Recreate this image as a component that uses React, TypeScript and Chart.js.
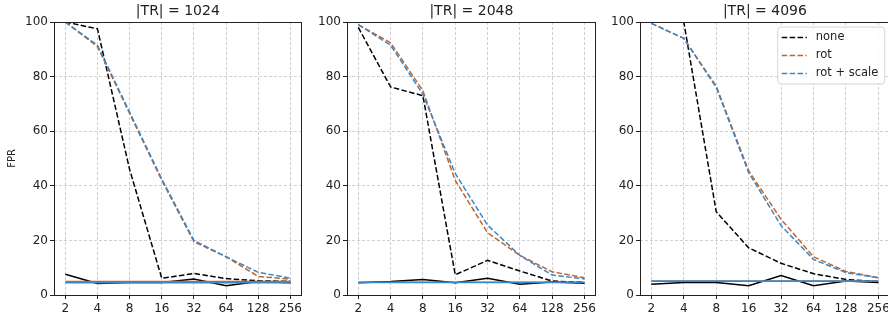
import React, { useEffect, useRef } from 'react';
import { Chart, registerables } from 'chart.js';
Chart.register(...registerables);

const xLabels = ['2', '4', '8', '16', '32', '64', '128', '256'];
const yTicks = [0, 20, 40, 60, 80, 100];
const panelTitles = ['|TR| = 1024', '|TR| = 2048', '|TR| = 4096'];
const seriesNames = ['none', 'rot', 'rot + scale'];
const seriesColors = ['#000000', '#c0652f', '#3d87c6'];

// |TR| = 1024
const none1024 = [100, 97.5, 46, 6.1, 7.9, 6.0, 5.2, 5.0];
const rot1024 = [100, 91, 66.5, 42, 19.5, 14, 6.8, 5.8];
const rotScale1024 = [100, 91.5, 67, 42.5, 20, 14, 8.3, 6.2];
const noneBase1024 = [7.6, 4.2, 4.6, 4.6, 5.9, 3.4, 4.9, 4.5];
const rotBase1024 = [4.9, 4.9, 4.9, 4.9, 4.9, 4.9, 4.9, 4.9];
const rotScaleBase1024 = [4.5, 4.5, 4.5, 4.5, 4.5, 4.5, 4.5, 4.5];

// |TR| = 2048
const none2048 = [98, 76.2, 73, 7.4, 12.7, 8.8, 5.1, 4.6];
const rot2048 = [99, 92.4, 74.8, 42, 22.8, 14.5, 8.5, 6.3];
const rotScale2048 = [99, 91.5, 73.5, 44.5, 25.6, 14.5, 7.3, 5.9];
const noneBase2048 = [4.5, 4.9, 5.7, 4.5, 6.1, 3.9, 4.8, 4.3];
const rotBase2048 = [4.7, 4.7, 4.7, 4.7, 4.7, 4.7, 4.7, 4.7];
const rotScaleBase2048 = [4.6, 4.6, 4.6, 4.6, 4.6, 4.6, 4.6, 4.6];

// |TR| = 4096
const none4096 = [100, 100, 30.5, 17.3, 11.6, 7.8, 5.7, 4.9];
const rot4096 = [99.5, 94, 76.5, 45.5, 27.7, 14, 8.6, 6.3];
const rotScale4096 = [99.5, 94, 76, 44.8, 25.4, 13, 8.2, 6.3];
const noneBase4096 = [3.9, 4.6, 4.6, 3.4, 7.1, 3.4, 5.1, 4.6];
const rotBase4096 = [5.0, 5.0, 5.0, 5.0, 5.0, 5.0, 5.0, 5.0];
const rotScaleBase4096 = [5.1, 5.1, 5.1, 5.1, 5.1, 5.1, 5.1, 5.1];

const panelSeries = [
  [none1024, rot1024, rotScale1024, noneBase1024, rotBase1024, rotScaleBase1024],
  [none2048, rot2048, rotScale2048, noneBase2048, rotBase2048, rotScaleBase2048],
  [none4096, rot4096, rotScale4096, noneBase4096, rotBase4096, rotScaleBase4096],
];

const FONT = 'DejaVu Sans';
const TEXT = '#222222';

type PanelProps = {
  idx: number;
  left: number;
  width: number;
  axisWidth: number;
  rightPad: number;
};

function Panel({ idx, left, width, axisWidth, rightPad }: PanelProps) {
  const ref = useRef<HTMLCanvasElement | null>(null);
  useEffect(() => {
    if (!ref.current) return;
    const series = panelSeries[idx];
    const datasets = series.map((vals, i) => {
      const ci = i % 3;
      const dashed = i < 3;
      return {
        label: dashed ? seriesNames[ci] : '_' + seriesNames[ci],
        data: vals.map((v, k) => ({ x: k, y: v })),
        borderColor: seriesColors[ci],
        backgroundColor: seriesColors[ci],
        borderWidth: 1.5,
        borderDash: dashed ? [5.5, 2.4] : [],
        pointRadius: 0,
        tension: 0,
        fill: false,
        order: -i,
      };
    });

    const framePlugin = {
      id: 'frame' + idx,
      afterDraw(chart: any) {
        const { ctx, chartArea: a } = chart;
        ctx.save();
        ctx.strokeStyle = '#222';
        ctx.lineWidth = 1;
        ctx.setLineDash([]);
        ctx.strokeRect(Math.round(a.left) + 0.5, Math.round(a.top) + 0.5, Math.round(a.right - a.left) - 1, Math.round(a.bottom - a.top));
        // title
        ctx.fillStyle = TEXT;
        ctx.font = `14px '${FONT}'`;
        ctx.textAlign = 'center';
        ctx.textBaseline = 'alphabetic';
        ctx.fillText(panelTitles[idx], (a.left + a.right) / 2, a.top - 7);
        if (idx === 2) {
          const bw = 107;
          const bx = a.right - 5 - bw;
          const by = a.top + 5;
          const bh = 57;
          const r = 3;
          ctx.beginPath();
          ctx.moveTo(bx + r, by);
          ctx.lineTo(bx + bw - r, by);
          ctx.quadraticCurveTo(bx + bw, by, bx + bw, by + r);
          ctx.lineTo(bx + bw, by + bh - r);
          ctx.quadraticCurveTo(bx + bw, by + bh, bx + bw - r, by + bh);
          ctx.lineTo(bx + r, by + bh);
          ctx.quadraticCurveTo(bx, by + bh, bx, by + bh - r);
          ctx.lineTo(bx, by + r);
          ctx.quadraticCurveTo(bx, by, bx + r, by);
          ctx.closePath();
          ctx.fillStyle = 'rgba(255,255,255,0.85)';
          ctx.fill();
          ctx.strokeStyle = '#d6d6d6';
          ctx.lineWidth = 1;
          ctx.stroke();
          ctx.font = `11.5px '${FONT}'`;
          ctx.textAlign = 'left';
          ctx.textBaseline = 'middle';
          seriesNames.forEach((name, i) => {
            const y = by + 10.5 + i * 18;
            ctx.strokeStyle = seriesColors[i];
            ctx.lineWidth = 1.5;
            ctx.setLineDash([5.5, 2.4]);
            ctx.beginPath();
            ctx.moveTo(bx + 4, y);
            ctx.lineTo(bx + 29, y);
            ctx.stroke();
            ctx.setLineDash([]);
            ctx.fillStyle = TEXT;
            ctx.fillText(name, bx + 38, y);
          });
        }
        ctx.restore();
      },
    };

    const gridOpts = {
      color: '#c4c4c4',
      lineWidth: 0.8,
      drawTicks: true,
      tickLength: 4,
      tickColor: '#222',
      tickBorderDash: [],
      tickWidth: 1,
    };
    const borderOpts = { display: false, dash: [3, 2] };

    const chart = new Chart(ref.current, {
      type: 'line',
      data: { datasets: datasets as any },
      options: {
        responsive: false,
        animation: false,
        devicePixelRatio: 1,
        layout: { padding: { top: 22, right: rightPad, left: 0, bottom: 0 } },
        plugins: {
          legend: { display: false },
          tooltip: { enabled: false },
          title: { display: false },
        },
        elements: { point: { radius: 0 }, line: { tension: 0 } },
        scales: {
          x: {
            type: 'linear',
            min: -0.35,
            max: 7.35,
            afterBuildTicks: (s: any) => {
              s.ticks = xLabels.map((_, i) => ({ value: i }));
            },
            afterFit: (s: any) => {
              s.height = 25;
            },
            ticks: {
              callback: (_v: any, i: number) => xLabels[i],
              font: { family: FONT, size: 12 },
              color: TEXT,
              padding: 3,
              maxRotation: 0,
              autoSkip: false,
            },
            grid: gridOpts as any,
            border: borderOpts,
          },
          y: {
            min: 0,
            max: 100,
            afterBuildTicks: (s: any) => {
              s.ticks = yTicks.map((v) => ({ value: v }));
            },
            afterFit: (s: any) => {
              s.width = axisWidth;
            },
            ticks: {
              font: { family: FONT, size: 12 },
              color: TEXT,
              padding: 2,
            },
            grid: gridOpts as any,
            border: borderOpts,
            title: {
              display: idx === 0,
              text: 'FPR',
              font: { family: FONT, size: 10 },
              color: TEXT,
              padding: { top: 6, bottom: 0 },
            },
          },
        },
      } as any,
      plugins: [framePlugin],
    });
    return () => chart.destroy();
  }, [idx, width, axisWidth, rightPad]);

  return (
    <canvas
      ref={ref}
      width={width}
      height={320}
      style={{ position: 'absolute', left, top: 0, width, height: 320 }}
    />
  );
}

export default function App() {
  return (
    <div
      style={{
        position: 'absolute',
        left: 0,
        top: 0,
        width: 888,
        height: 320,
        overflow: 'hidden',
        background: '#ffffff',
      }}
    >
      <Panel idx={0} left={0} width={305} axisWidth={54} rightPad={2} />
      <Panel idx={1} left={305} width={294} axisWidth={42} rightPad={2} />
      <Panel idx={2} left={598} width={295} axisWidth={42} rightPad={3} />
    </div>
  );
}
